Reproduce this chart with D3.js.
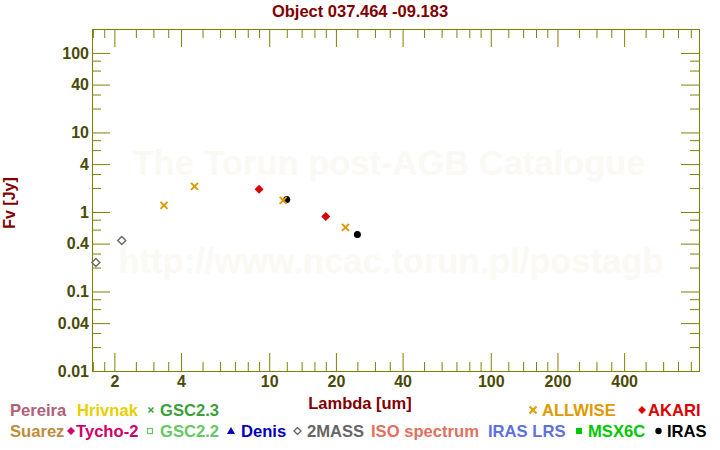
<!DOCTYPE html>
<html>
<head>
<meta charset="utf-8">
<script src="https://cdn.jsdelivr.net/npm/d3@7"></script>
<style>
  body { margin: 0; background: #fff; }
  svg { display: block; font-family: "Liberation Sans", Arial, sans-serif; font-weight: bold; }
</style>
</head>
<body>
<svg id="sed" width="720" height="450"></svg>
<script>
// photometry (wavelength in um, flux in Jy)
const twomassLambda = [1.65, 2.16]
const twomassFlux = [0.232, 0.438]
const allwiseLambda = [3.35, 4.6, 11.56, 22.08]
const allwiseFlux = [1.21, 2.10, 1.40, 0.64]
const akariLambda = [9, 18]
const akariFlux = [1.93, 0.88]
const irasLambda = [12, 25]
const irasFlux = [1.44, 0.52]

const xTickLabels = [2, 4, 10, 20, 40, 100, 200, 400]
const yTickLabels = [0.01, 0.04, 0.1, 0.4, 1, 4, 10, 40, 100]

const legendRow1 = ["Pereira", "Hrivnak", "GSC2.3", "ALLWISE", "AKARI"]
const legendRow2 = ["Suarez", "Tycho-2", "GSC2.2", "Denis", "2MASS", "ISO spectrum", "IRAS LRS", "MSX6C", "IRAS"]

const svg = d3.select('#sed')
const plotLeft = 92, plotRight = 699, plotTop = 29, plotBottom = 371
const olive = "#808000", tickText = "#4a4a06", darkRed = "#800000"

var x = d3.scaleLog().domain([Math.pow(10, 0.2), Math.pow(10, 2.94)]).range([plotLeft, plotRight])
var y = d3.scaleLog().domain([0.01, 200]).range([plotBottom, plotTop])

// minor ticks per decade
var xMinor = [], yMinor = []
for (var e = 0; e <= 2; e++) {
    [1.2, 1.4, 1.6, 1.8, 2.5, 3, 3.5, 5, 6, 7, 8, 9].forEach(function(m) {
        var v = m * Math.pow(10, e)
        if (v >= x.domain()[0] && v <= x.domain()[1]) xMinor.push(v)
    })
}
for (var k = -2; k <= 2; k++) {
    [2, 3, 6, 8].forEach(function(m) {
        var v = m * Math.pow(10, k)
        if (v <= 200) yMinor.push(v)
    })
}

// watermark
svg.append("g").selectAll("text")
    .data([["The Torun post-AGB Catalogue", 389, 175], ["http://www.ncac.torun.pl/postagb", 391, 273]])
    .join("text")
    .attr("x", d => d[1]).attr("y", d => d[2])
    .attr("text-anchor", "middle")
    .style("font-size", "34.5px")
    .attr("fill", "#faf9f4")
    .text(d => d[0])

function styleAxis(g) {
    g.select(".domain").remove()
    g.selectAll("line").attr("stroke", olive).attr("stroke-width", 1)
    g.selectAll("text").attr("fill", tickText).style("font-size", "16px").style("font-family", "Liberation Sans, Arial, sans-serif").style("font-weight", "bold")
}

// bottom
svg.append("g").attr("transform", `translate(0,${plotBottom})`)
    .call(d3.axisBottom(x).tickValues(xTickLabels).tickSize(-18).tickPadding(5).tickFormat(d => d))
    .call(styleAxis)
svg.append("g").attr("transform", `translate(0,${plotBottom})`)
    .call(d3.axisBottom(x).tickValues(xMinor).tickSize(-9).tickFormat(""))
    .call(styleAxis)
// top
svg.append("g").attr("transform", `translate(0,${plotTop})`)
    .call(d3.axisTop(x).tickValues(xTickLabels).tickSize(-18).tickFormat(""))
    .call(styleAxis)
svg.append("g").attr("transform", `translate(0,${plotTop})`)
    .call(d3.axisTop(x).tickValues(xMinor).tickSize(-9).tickFormat(""))
    .call(styleAxis)
// left
svg.append("g").attr("transform", `translate(${plotLeft},0)`)
    .call(d3.axisLeft(y).tickValues(yTickLabels).tickSize(-18).tickPadding(3).tickFormat(d => d))
    .call(styleAxis)
svg.append("g").attr("transform", `translate(${plotLeft},0)`)
    .call(d3.axisLeft(y).tickValues(yMinor).tickSize(-9).tickFormat(""))
    .call(styleAxis)
// right
svg.append("g").attr("transform", `translate(${plotRight},0)`)
    .call(d3.axisRight(y).tickValues(yTickLabels).tickSize(-18).tickFormat(""))
    .call(styleAxis)
svg.append("g").attr("transform", `translate(${plotRight},0)`)
    .call(d3.axisRight(y).tickValues(yMinor).tickSize(-9).tickFormat(""))
    .call(styleAxis)

svg.append("rect")
    .attr("x", plotLeft + 0.5).attr("y", plotTop + 0.5)
    .attr("width", plotRight - plotLeft).attr("height", plotBottom - plotTop)
    .attr("fill", "none").attr("stroke", olive).attr("stroke-width", 1)

// titles
svg.append("text").attr("x", 360).attr("y", 17).attr("text-anchor", "middle")
    .attr("fill", darkRed).style("font-size", "16.5px").text("Object 037.464 -09.183")
svg.append("text").attr("x", 360).attr("y", 409).attr("text-anchor", "middle")
    .attr("fill", darkRed).style("font-size", "16.5px").text("Lambda [um]")
svg.append("text").attr("transform", "translate(15,203) rotate(-90)").attr("text-anchor", "middle")
    .attr("fill", darkRed).style("font-size", "16px").text("Fv [Jy]")

// markers
function diamond(s) { return `M0,${-s}L${s},0L0,${s}L${-s},0Z` }
function cross(s) { return `M${-s},${-s}L${s},${s}M${-s},${s}L${s},${-s}` }

const pts = svg.append("g")
pts.selectAll(".twomass").data(d3.zip(twomassLambda, twomassFlux)).join("path")
    .attr("transform", d => `translate(${x(d[0])},${y(d[1])})`)
    .attr("d", diamond(4)).attr("fill", "none").attr("stroke", "#666666").attr("stroke-width", 1.4)
pts.selectAll(".akari").data(d3.zip(akariLambda, akariFlux)).join("path")
    .attr("transform", d => `translate(${x(d[0])},${y(d[1])})`)
    .attr("d", diamond(4.5)).attr("fill", "#dd0000")
pts.selectAll(".iras").data(d3.zip(irasLambda, irasFlux)).join("circle")
    .attr("cx", d => x(d[0])).attr("cy", d => y(d[1])).attr("r", 3.5).attr("fill", "#000")
pts.selectAll(".allwise").data(d3.zip(allwiseLambda, allwiseFlux)).join("path")
    .attr("transform", d => `translate(${x(d[0])},${y(d[1])})`)
    .attr("d", cross(3.5)).attr("stroke", "#e09a00").attr("stroke-width", 2).attr("fill", "none")

// legend
const row1Colors = ["#b0607a", "#e8d000", "#3ca03c", "#e09a00", "#dd0000"]
const row1X = [10, 77, 160, 542, 648]
const row2Colors = ["#c08c3c", "#d0006a", "#66c866", "#0000c0", "#666666", "#e07060", "#6070e0", "#00c800", "#000000"]
const row2X = [10, 76, 160, 241, 307, 371, 488, 588, 667]

const leg = svg.append("g").style("font-size", "16.6px")
leg.selectAll(".r1").data(legendRow1).join("text")
    .attr("x", (d, i) => row1X[i]).attr("y", 416)
    .attr("fill", (d, i) => row1Colors[i]).text(d => d)
leg.selectAll(".r2").data(legendRow2).join("text")
    .attr("x", (d, i) => row2X[i]).attr("y", 437)
    .attr("fill", (d, i) => row2Colors[i]).text(d => d)

// legend symbols
leg.append("path").attr("transform", "translate(151,410)").attr("d", cross(2.5)).attr("stroke", row1Colors[2]).attr("stroke-width", 1.5)
leg.append("path").attr("transform", "translate(533,410)").attr("d", cross(3.5)).attr("stroke", row1Colors[3]).attr("stroke-width", 2)
leg.append("path").attr("transform", "translate(642,410)").attr("d", diamond(4)).attr("fill", row1Colors[4])
leg.append("path").attr("transform", "translate(71,431)").attr("d", diamond(4)).attr("fill", row2Colors[1])
leg.append("rect").attr("x", 147.5).attr("y", 428.5).attr("width", 5).attr("height", 5).attr("fill", "none").attr("stroke", row2Colors[2]).attr("stroke-width", 1.2)
leg.append("path").attr("d", "M231,427L235,434L227,434Z").attr("fill", row2Colors[3])
leg.append("path").attr("transform", "translate(297.5,431)").attr("d", diamond(3.5)).attr("fill", "none").attr("stroke", row2Colors[4]).attr("stroke-width", 1.3)
leg.append("rect").attr("x", 576).attr("y", 428).attr("width", 6).attr("height", 6).attr("fill", row2Colors[7])
leg.append("circle").attr("cx", 658.5).attr("cy", 431).attr("r", 3.2).attr("fill", "#000")
</script>
</body>
</html>
